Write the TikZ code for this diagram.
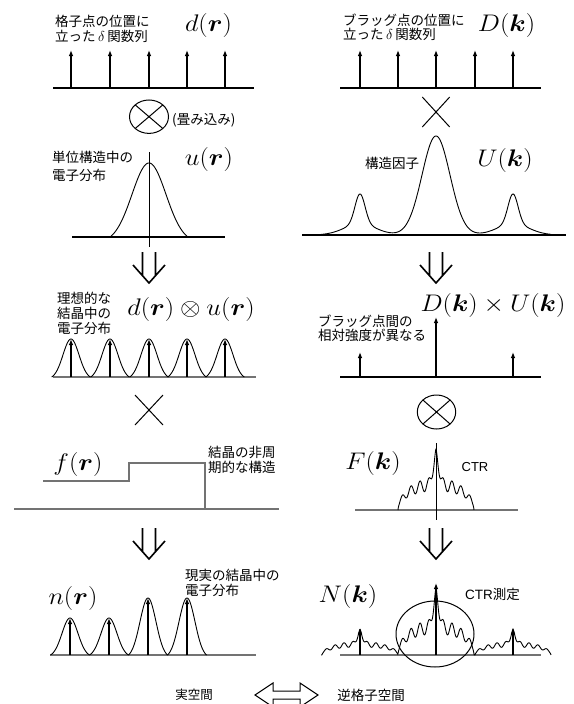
\documentclass[tikz,border=0pt]{standalone}
\usepackage{amsmath}
\usepackage{graphicx}
\usepackage{fontspec}
\newfontfamily\jp{Noto Sans CJK JP}
\newfontfamily\lsans{Liberation Sans}
\usetikzlibrary{arrows.meta}
\definecolor{lgray}{gray}{0.45}
\newcommand{\stm}[1]{\scalebox{1.06}[0.965]{$#1$}}
\begin{document}
\begin{tikzpicture}[x=1pt,y=-1pt,
  declare function={gs(\vv,\sg)=exp(-min(0.5*(\vv/\sg)^2,9));
    bell(\vv,\sg,\hw)=(gs(\vv,\sg)-gs(\hw,\sg))/(1-gs(\hw,\sg));
    ctr(\vv)=32*sqrt(max(0,1-(\vv/38)^2))*(0.8+0.2*cos(40*(abs(\vv)-7)))+35*gs(\vv,2.5);},
  base/.style={line width=1.2pt},
  gbase/.style={line width=1.2pt, draw=lgray},
  delta/.style={line width=1.6pt, -{Latex[length=6pt,width=4.6pt]}},
  curve/.style={line width=0.9pt},
  thin line/.style={line width=1pt},
  dblarrow/.pic={\draw[line width=1.6pt] (-6.5,0) -- (-6.5,23.7) (6.5,0) -- (6.5,23.7) (-16,13) -- (0,31) -- (16,13);},
  jtext/.style={font=\jp\fontsize{13.5}{14.5}\selectfont, inner sep=0pt, align=left, anchor=west},
  mtext/.style={font=\fontsize{24.88}{28}\selectfont, inner sep=0pt},
]
\useasboundingbox (0,0) rectangle (573,704);

% ---------- Row 1 ----------
\draw[base] (53,88) -- (254,88);
\foreach \xx in {71,110,149,187,225} \draw[delta] (\xx,88) -- (\xx,50);
\node[jtext] (tA) at (55,28.75) {格子点の位置に\\立った$\,\delta\,$関数列};
\node[mtext] (mA) at (208.5,25) {\stm{d(\boldsymbol{r})}};

\draw[base] (340,88) -- (541,88);
\foreach \xx in {360,398,436,475,513} \draw[delta] (\xx,88) -- (\xx,50);
\node[jtext, font=\jp\fontsize{13.5}{13.5}\selectfont] (tB) at (343,27.5) {ブラッグ点の位置に\\立った$\,\delta\,$関数列};
\node[mtext] (mB) at (506.5,25) {\stm{D(\boldsymbol{k})}};

% convolution symbol
\draw[thin line] (149,116.7) ellipse [x radius=19.5pt, y radius=16.7pt];
\draw[thin line] (135.2,104.9) -- (162.8,128.5) (135.2,128.5) -- (162.8,104.9);
\node[jtext] (tC) at (172,120) {(畳み込み)};
% product symbol
\draw[thin line] (422.3,97) -- (449.7,127) (422.3,127) -- (449.7,97);

% ---------- Row 2 ----------
\draw[base] (72,237) -- (225,237);
\draw[thin line] (149,152) -- (149,247);
\draw[curve] plot[domain=110:188,samples=120] (\x,{237-74*bell(\x-149,17,39)});
\node[jtext, font=\jp\fontsize{13.5}{18}\selectfont] (tD) at (52,166) {単位構造中の\\電子分布};
\node[mtext] (mC) at (209,159) {\stm{u(\boldsymbol{r})}};

\draw[base] (302,235) -- (566,235);
\draw[curve] plot[domain=321:551,samples=400] (\x,{235-99*gs(\x-436,14)-30*gs(\x-360,5)-11*gs(\x-360,16)-30*gs(\x-513,5)-11*gs(\x-513,16)});
\node[jtext] (tE) at (365,163) {構造因子};
\node[mtext] (mD) at (505,160) {\stm{U(\boldsymbol{k})}};

\pic at (149,252) {dblarrow};
\pic at (436,252) {dblarrow};

% ---------- Row 3 ----------
\draw[gbase] (53,377) -- (256,377);
\foreach \cc in {71,110,149,187,225}
  \draw[curve] plot[domain=\cc-19.3:\cc+19.3,samples=80] (\x,{377-38*bell(\x-\cc,8,19.3)});
\foreach \xx in {71,110,149,187,225} \draw[delta] (\xx,377) -- (\xx,339);
\node[jtext, font=\jp\fontsize{13.5}{15}\selectfont] (tF) at (57,313.5) {理想的な\\結晶中の\\電子分布};
\node[mtext] (mE) at (191,309) {\stm{d(\boldsymbol{r})\otimes u(\boldsymbol{r})}};

\draw[base] (340,377) -- (541,377);
\draw[delta] (360,377) -- (360,352);
\draw[delta] (436,377) -- (436,317);
\draw[delta] (513,377) -- (513,352);
\node[jtext, font=\jp\fontsize{13.5}{13.5}\selectfont] (tG) at (318,328.5) {ブラッグ点間の\\相対強度が異なる};
\node[mtext] (mF) at (493,305) {\stm{D(\boldsymbol{k})\times U(\boldsymbol{k})}};

% product symbol left
\draw[thin line] (135,395) -- (163,425) (135,425) -- (163,395);
% convolution symbol right
\draw[thin line] (436.5,412) ellipse [x radius=19.2pt, y radius=17pt];
\draw[thin line] (422.9,400) -- (450.1,424) (422.9,424) -- (450.1,400);

% ---------- Row 4 ----------
\draw[gbase] (14,509) -- (279,509);
\draw[gbase] (43,481) -- (129,481) -- (129,463) -- (205,463) -- (205,509);
\node[mtext] (mG) at (78,464) {\stm{f(\boldsymbol{r})}};
\node[jtext, font=\jp\fontsize{13.5}{15}\selectfont] (tH) at (208,460) {結晶の非周\\期的な構造};

\draw[gbase] (355,510) -- (518,510);
\draw[thin line] (436,443) -- (436,520);
\draw[curve] plot[domain=398:474,samples=220] (\x,{510-ctr(\x-436)});
\node[mtext] (mH) at (373,463) {\stm{F(\boldsymbol{k})}};
\node[inner sep=0pt, font=\lsans\fontsize{13}{13}\selectfont] (tI) at (475,467) {CTR};

\pic at (149,528) {dblarrow};
\pic at (436,528) {dblarrow};

% ---------- Row 5 ----------
\draw[gbase] (50,655) -- (256,655);
\foreach \cc/\hh in {70/37,109/37,148/57,187/57}
  \draw[curve] plot[domain=\cc-19.5:\cc+19.5,samples=80] (\x,{655-\hh*bell(\x-\cc,8,19.5)});
\draw[delta] (70,655) -- (70,618);
\draw[delta] (109,655) -- (109,618);
\draw[delta] (148,655) -- (148,598);
\draw[delta] (187,655) -- (187,598);
\node[mtext] (mI) at (73,598) {\stm{n(\boldsymbol{r})}};
\node[jtext, font=\jp\fontsize{13.5}{15}\selectfont] (tJ) at (185,582.5) {現実の結晶中の\\電子分布};

\draw[gbase] (340,655) -- (541,655);
\draw[curve] plot[domain=321:551,samples=600] (\x,{655-0.42*ctr(\x-360)-1.1*ctr(\x-436)-0.42*ctr(\x-513)});
\draw[delta] (360,655) -- (360,628);
\draw[delta] (436,655) -- (436,583);
\draw[delta] (513,655) -- (513,628);
\draw[thin line] (435,634) ellipse [x radius=39pt, y radius=33pt];
\node[mtext] (mJ) at (348,596) {\stm{N(\boldsymbol{k})}};
\node[jtext] (tK) at (465,594) {{\lsans CTR}測定};

% ---------- bottom ----------
\node[inner sep=0pt, font=\jp\fontsize{12.5}{13}\selectfont] (tL) at (194,695) {実空間};
\node[inner sep=0pt, font=\jp\fontsize{13.5}{14}\selectfont] (tM) at (371,695) {逆格子空間};
\draw[thin line] (255,695) -- (273,683) -- (273,691) -- (300,691) -- (300,683) -- (318,695) -- (300,707) -- (300,699) -- (273,699) -- (273,707) -- cycle;
\end{tikzpicture}
\end{document}
